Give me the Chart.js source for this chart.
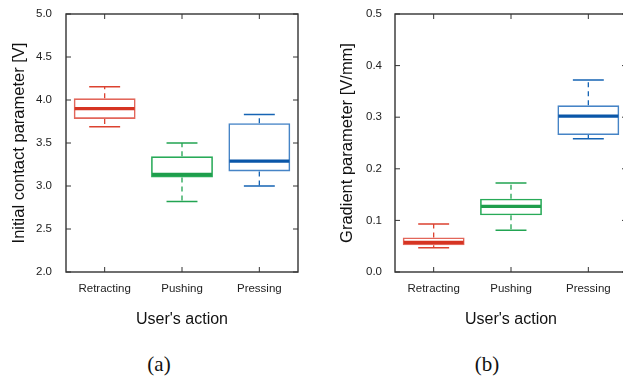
<!DOCTYPE html>
<html>
<head>
<meta charset="utf-8">
<script src="https://cdn.jsdelivr.net/npm/chart.js@4.4.1/dist/chart.umd.min.js"></script>
<style>
  html, body { margin: 0; padding: 0; background: #fff; overflow: hidden; }
  body { width: 623px; height: 379px; position: relative; }
  canvas { position: absolute; top: 0; }
  #chart-a { left: 0; }
  #chart-b { left: 310px; }
  .panel-label {
    position: absolute; top: 352px; width: 60px; text-align: center;
    font: 21px "Liberation Serif", "Times New Roman", serif; color: #111;
  }
</style>
</head>
<body>
<canvas id="chart-a" width="310" height="340"></canvas>
<canvas id="chart-b" width="330" height="340"></canvas>
<div class="panel-label" style="left:129px">(a)</div>
<div class="panel-label" style="left:457px">(b)</div>
<script>
// Categories
const categories = ['Retracting', 'Pushing', 'Pressing'];

// (a) Initial contact parameter [V]
const contactLow = [3.69, 2.82, 3.00];
const contactQ1 = [3.78, 3.10, 3.17];
const contactMedian = [3.90, 3.135, 3.29];
const contactQ3 = [4.02, 3.345, 3.73];
const contactHigh = [4.155, 3.50, 3.83];

// (b) Gradient parameter [V/mm]
const gradientLow = [0.047, 0.081, 0.258];
const gradientQ1 = [0.052, 0.110, 0.2655];
const gradientMedian = [0.0575, 0.127, 0.302];
const gradientQ3 = [0.067, 0.142, 0.323];
const gradientHigh = [0.093, 0.1725, 0.372];

// Colors
const boxColors = ['rgb(226,102,90)', 'rgb(40,170,88)', 'rgb(70,132,198)'];
const medianColors = ['rgb(214,52,34)', 'rgb(30,158,76)', 'rgb(10,86,168)'];
const whiskerColors = ['rgb(220,66,48)', 'rgb(34,164,82)', 'rgb(22,100,180)'];

const FONT = '"Liberation Sans", Arial, Helvetica, sans-serif';

// Draws frame, inward ticks, whiskers and medians
const boxPlotPlugin = {
  id: 'boxPlot',
  afterDatasetsDraw(chart) {
    const { ctx, chartArea: area } = chart;
    const xs = chart.scales.x;
    const ys = chart.scales.y;
    const stats = chart.options.plugins.boxPlot;
    const meta = chart.getDatasetMeta(0);

    ctx.save();
    categories.forEach((c, i) => {
      const x = xs.getPixelForValue(i);
      const halfCap = meta.data[i].width / 4;
      const yLow = ys.getPixelForValue(stats.low[i]);
      const yQ1 = ys.getPixelForValue(stats.q1[i]);
      const yQ3 = ys.getPixelForValue(stats.q3[i]);
      const yHigh = ys.getPixelForValue(stats.high[i]);
      const yMed = ys.getPixelForValue(stats.median[i]);

      // dashed whiskers
      ctx.strokeStyle = whiskerColors[i];
      ctx.lineWidth = 1.3;
      ctx.setLineDash([5, 4]);
      ctx.beginPath();
      ctx.moveTo(x, yQ3); ctx.lineTo(x, yHigh);
      ctx.moveTo(x, yQ1); ctx.lineTo(x, yLow);
      ctx.stroke();

      // caps
      ctx.setLineDash([]);
      ctx.lineWidth = 1.5;
      ctx.beginPath();
      ctx.moveTo(x - halfCap, yHigh); ctx.lineTo(x + halfCap, yHigh);
      ctx.moveTo(x - halfCap, yLow); ctx.lineTo(x + halfCap, yLow);
      ctx.stroke();

      // median
      const half = meta.data[i].width / 2;
      ctx.strokeStyle = medianColors[i];
      ctx.lineWidth = 3.2;
      ctx.beginPath();
      ctx.moveTo(x - half + 1, yMed); ctx.lineTo(x + half - 1, yMed);
      ctx.stroke();
    });

    // frame
    ctx.strokeStyle = '#333';
    ctx.lineWidth = 1.4;
    ctx.strokeRect(area.left, area.top, area.right - area.left, area.bottom - area.top);

    // inward ticks
    ctx.lineWidth = 1;
    ctx.beginPath();
    ys.ticks.forEach((t) => {
      const y = ys.getPixelForValue(t.value);
      ctx.moveTo(area.left, y); ctx.lineTo(area.left + 5, y);
      ctx.moveTo(area.right, y); ctx.lineTo(area.right - 5, y);
    });
    categories.forEach((c, i) => {
      const x = xs.getPixelForValue(i);
      ctx.moveTo(x, area.bottom); ctx.lineTo(x, area.bottom - 5);
      ctx.moveTo(x, area.top); ctx.lineTo(x, area.top + 5);
    });
    ctx.stroke();
    ctx.restore();
  }
};

function makeChart(id, cfg) {
  const ctx = document.getElementById(id);
  return new Chart(ctx.getContext('2d'), {
    type: 'bar',
    data: {
      labels: categories,
      datasets: [{
        data: categories.map((c, i) => [cfg.q1[i], cfg.q3[i]]),
        backgroundColor: 'rgba(255,255,255,0)',
        borderColor: boxColors,
        borderWidth: 1.6,
        borderSkipped: false,
        barPercentage: 0.8,
        categoryPercentage: 1.0
      }]
    },
    options: {
      responsive: false,
      animation: false,
      layout: { padding: { top: 14, right: cfg.padRight, bottom: 0, left: 0 } },
      plugins: {
        legend: { display: false },
        tooltip: { enabled: false },
        boxPlot: cfg
      },
      scales: {
        x: {
          grid: { display: false, drawTicks: false },
          border: { display: false },
          ticks: { padding: 10, color: '#222', font: { family: FONT, size: 11.5 } },
          title: {
            display: true, text: "User's action", color: '#111',
            font: { family: FONT, size: 16 }, padding: { top: 0, bottom: 11 }
          },
          afterFit: (s) => { s.height = 68; s.paddingLeft = 0; s.paddingRight = 0; }
        },
        y: {
          min: cfg.min, max: cfg.max,
          grid: { display: false, drawTicks: false },
          border: { display: false },
          ticks: {
            stepSize: cfg.step, padding: cfg.tickPad, color: '#222',
            font: { family: FONT, size: 11.5 },
            callback: (v) => v.toFixed(1)
          },
          title: {
            display: true, text: cfg.title, color: '#111',
            font: { family: FONT, size: 16.5 }, padding: { top: cfg.titlePad, bottom: 0 }
          },
          afterFit: (s) => { s.width = cfg.axisWidth; s.paddingTop = 0; s.paddingBottom = 0; }
        }
      }
    },
    plugins: [boxPlotPlugin]
  });
}

makeChart('chart-a', {
  low: contactLow, q1: contactQ1, median: contactMedian, q3: contactQ3, high: contactHigh,
  min: 2.0, max: 5.0, step: 0.5, title: 'Initial contact parameter [V]',
  axisWidth: 66, padRight: 12, tickPad: 14, titlePad: 10
});

makeChart('chart-b', {
  low: gradientLow, q1: gradientQ1, median: gradientMedian, q3: gradientQ3, high: gradientHigh,
  min: 0.0, max: 0.5, step: 0.1, title: 'Gradient parameter [V/mm]',
  axisWidth: 85, padRight: 13, tickPad: 13, titlePad: 28
});
</script>
</body>
</html>
